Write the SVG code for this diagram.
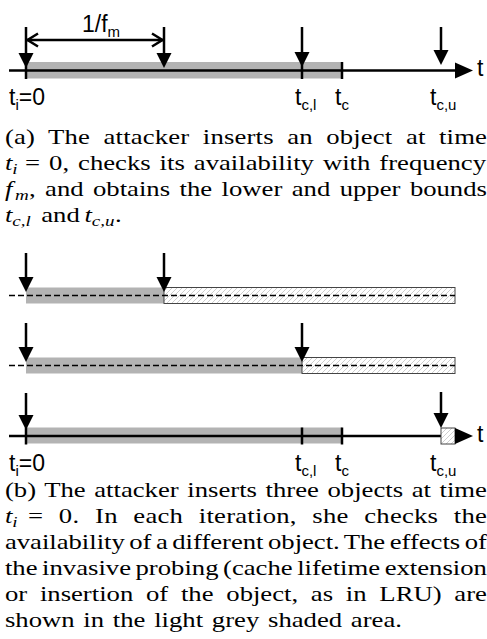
<svg xmlns="http://www.w3.org/2000/svg" width="487" height="639" viewBox="0 0 487 639">
<style>
.ax{stroke:#000;stroke-width:2.5;fill:none}
.tk{stroke:#000;stroke-width:2.5}
.dn{stroke:#000;stroke-width:2.5;marker-end:url(#ah)}
.dash{stroke:#000;stroke-width:1.4;stroke-dasharray:6 3}
.bar{fill:#b3b3b3}
.hb{fill:url(#hatch);stroke:#444;stroke-width:1}
.lbl{font-family:"Liberation Sans",Arial,sans-serif;font-size:23px;fill:#000}
.sub{font-size:15px}
.cap{font-family:"Liberation Serif","Times New Roman",serif;font-size:21px;fill:#000}
.it{font-style:italic}
.cs{font-size:15px;font-style:italic}
</style>
<defs>
<marker id="ah" markerUnits="userSpaceOnUse" markerWidth="16" markerHeight="16" refX="10" refY="7.5" orient="auto"><path d="M0,0 L15,7.5 L0,15 z" fill="#000"/></marker>
<pattern id="hatch" patternUnits="userSpaceOnUse" width="5" height="5"><path d="M0,5 L5,0 M-1,1 L1,-1 M4,6 L6,4" stroke="#c2c2c2" stroke-width="0.8"/></pattern>
</defs>

<g id="panel-a">
  <g id="a-bars"><rect class="bar" x="26" y="62" width="316" height="16.5"/></g>
  <g id="a-axis">
    <line class="ax" x1="9" y1="70.5" x2="458" y2="70.5"/>
    <polygon points="455,62.5 473,70.5 455,78.5" fill="#000"/>
    <line class="tk" x1="26" y1="62" x2="26" y2="79"/>
    <line class="tk" x1="302" y1="62" x2="302" y2="79"/>
    <line class="tk" x1="342" y1="62" x2="342" y2="79"/>
  </g>
  <g id="a-connectors">
    <line class="dn" x1="26" y1="27" x2="26" y2="63"/>
    <line class="dn" x1="164" y1="27" x2="164" y2="63"/>
    <line class="dn" x1="302" y1="27" x2="302" y2="62"/>
    <line class="dn" x1="441" y1="27" x2="441" y2="60"/>
    <line class="ax" x1="27" y1="40" x2="163" y2="40"/>
    <polyline class="ax" points="38,33.5 27.5,40 38,46.5"/>
    <polyline class="ax" points="152,33.5 162.5,40 152,46.5"/>
  </g>
  <g id="a-labels" class="lbl">
    <text x="82" y="32">1/f<tspan class="sub" dy="5">m</tspan></text>
    <text x="9" y="105">t<tspan class="sub" dy="5">i</tspan><tspan dy="-5">=0</tspan></text>
    <text x="295" y="105">t<tspan class="sub" dy="5">c,l</tspan></text>
    <text x="335" y="105">t<tspan class="sub" dy="5">c</tspan></text>
    <text x="430" y="105">t<tspan class="sub" dy="5">c,u</tspan></text>
    <text x="477" y="76">t</text>
  </g>
  <g id="a-caption" class="cap" transform="scale(1.27 1)">
    <text x="3.9" y="144" textLength="379.5" lengthAdjust="spacing" word-spacing="5.2">(a) The attacker inserts an object at time</text>
    <text x="3.9" y="170" class="it">t<tspan class="cs" dy="4">i</tspan></text>
    <text x="19.7" y="170" textLength="363" lengthAdjust="spacing" word-spacing="1.8">= 0, checks its availability with frequency</text>
    <text x="3.9" y="196" class="it">f</text>
    <text x="11.8" y="200" class="cs">m</text>
    <text x="22.8" y="196" textLength="360.6" lengthAdjust="spacing" word-spacing="2.2">, and obtains the lower and upper bounds</text>
    <text x="3.9" y="222" class="it">t</text>
    <text x="9.7" y="226" class="cs">c,l</text>
    <text x="32.5" y="222">and</text>
    <text x="66.5" y="222" class="it">t</text>
    <text x="72.3" y="226" class="cs">c,u</text>
    <text x="90.5" y="222">.</text>
  </g>
</g>

<g id="panel-b">
  <g id="row1">
    <rect class="bar" x="26" y="287.5" width="138" height="16"/>
    <rect class="hb" x="164" y="287.5" width="291" height="16"/>
    <line class="dash" x1="9" y1="295.5" x2="455" y2="295.5"/>
  </g>
  <g id="row2">
    <rect class="bar" x="26" y="357.5" width="276" height="16"/>
    <rect class="hb" x="302" y="357.5" width="153" height="16"/>
    <line class="dash" x1="9" y1="365.5" x2="455" y2="365.5"/>
  </g>
  <g id="row3">
    <rect class="bar" x="26" y="427.5" width="316" height="16"/>
    <line class="ax" x1="9" y1="436" x2="441" y2="436"/>
    <rect x="441" y="428" width="14" height="16" fill="#fff"/>
    <rect class="hb" x="441" y="428" width="14" height="16"/>
    <polygon points="455,428 473,436 455,444" fill="#000"/>
    <line class="tk" x1="26" y1="427.5" x2="26" y2="444.5"/>
    <line class="tk" x1="302" y1="427.5" x2="302" y2="444.5"/>
    <line class="tk" x1="342" y1="427.5" x2="342" y2="444.5"/>
  </g>
  <g id="b-connectors">
    <line class="dn" x1="26" y1="253" x2="26" y2="287"/>
    <line class="dn" x1="164" y1="253" x2="164" y2="287"/>
    <line class="dn" x1="26" y1="323" x2="26" y2="357"/>
    <line class="dn" x1="302" y1="323" x2="302" y2="357"/>
    <line class="dn" x1="26" y1="393" x2="26" y2="425"/>
    <line class="dn" x1="441" y1="392" x2="441" y2="423"/>
  </g>
  <g id="b-labels" class="lbl">
    <text x="9" y="471">t<tspan class="sub" dy="5">i</tspan><tspan dy="-5">=0</tspan></text>
    <text x="295" y="471">t<tspan class="sub" dy="5">c,l</tspan></text>
    <text x="335" y="471">t<tspan class="sub" dy="5">c</tspan></text>
    <text x="430" y="471">t<tspan class="sub" dy="5">c,u</tspan></text>
    <text x="477" y="442">t</text>
  </g>
  <g id="b-caption" class="cap" transform="scale(1.27 1)">
    <text x="3.9" y="497" textLength="379.5" lengthAdjust="spacing" word-spacing="1.5">(b) The attacker inserts three objects at time</text>
    <text x="3.9" y="523" class="it">t<tspan class="cs" dy="4">i</tspan></text>
    <text x="22" y="523" textLength="361.4" lengthAdjust="spacing" word-spacing="6.9">= 0. In each iteration, she checks the</text>
    <text x="3.9" y="549" textLength="379.5" lengthAdjust="spacing" word-spacing="-1.7">availability of a different object. The effects of</text>
    <text x="3.9" y="575" textLength="379.5" lengthAdjust="spacing" word-spacing="-1.7">the invasive probing (cache lifetime extension</text>
    <text x="3.9" y="601" textLength="379.5" lengthAdjust="spacing" word-spacing="4.8">or insertion of the object, as in LRU) are</text>
    <text x="3.9" y="627" textLength="312.6" lengthAdjust="spacing" word-spacing="1.6">shown in the light grey shaded area.</text>
  </g>
</g>
</svg>
